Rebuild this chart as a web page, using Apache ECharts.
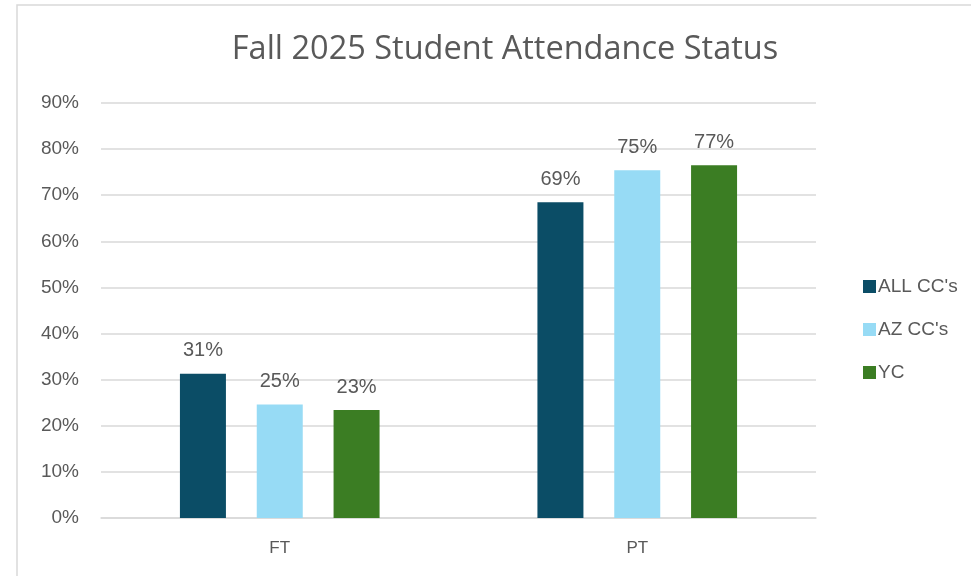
<!DOCTYPE html>
<html>
<head>
<meta charset="utf-8">
<script src="https://cdn.jsdelivr.net/npm/echarts@6/dist/echarts.min.js"></script>
<style>
  html, body { margin: 0; padding: 0; background: #fff; }
  #chart { width: 971px; height: 576px; }
</style>
</head>
<body>
<div id="chart"></div>
<script>
// categories and series (values as fractions)
var categories = ['FT', 'PT']
var seriesNames = ["ALL CC's", "AZ CC's", 'YC']
var allCC = [0.313, 0.685]
var azCC = [0.246, 0.754]
var yc = [0.234, 0.765]
var colors = ['#0b4d66', '#97dbf5', '#3b7d23']

var chart = echarts.init(document.getElementById('chart'))

function makeSeries(name, data, color) {
  return {
    name: name,
    type: 'bar',
    data: data,
    barWidth: 46,
    barGap: '67%',
    itemStyle: { color: color },
    label: {
      show: true,
      position: 'top',
      distance: 13,
      color: '#595959',
      fontSize: 20,
      fontFamily: 'Liberation Sans',
      formatter: function(p) {
        return Math.round(p.value * 100) + '%'
      }
    }
  }
}

var option = {
  animation: false,
  textStyle: { fontFamily: 'Liberation Sans' },
  title: {
    text: 'Fall 2025 Student Attendance Status',
    left: 500,
    textAlign: 'center',
    top: 28,
    textStyle: {
      color: '#595959',
      fontSize: 32.5,
      fontWeight: 'normal',
      fontFamily: 'Open Sans'
    }
  },
  legend: {
    orient: 'vertical',
    left: 858,
    top: 272,
    itemWidth: 13,
    itemHeight: 13,
    itemGap: 24,
    icon: 'rect',
    textStyle: { color: '#595959', fontSize: 19, padding: [0, 0, 0, -3] },
    data: seriesNames
  },
  grid: {
    left: 101,
    right: 155,
    top: 103,
    bottom: 58
  },
  xAxis: {
    type: 'category',
    data: categories,
    axisTick: { show: false },
    axisLine: { lineStyle: { color: '#d9d9d9', width: 1.5 } },
    axisLabel: { color: '#595959', fontSize: 17, margin: 22 }
  },
  yAxis: {
    type: 'value',
    min: 0,
    max: 0.9,
    interval: 0.1,
    axisLine: { show: false },
    axisTick: { show: false },
    splitLine: { lineStyle: { color: '#d9d9d9', width: 1.5 } },
    axisLabel: {
      color: '#595959',
      fontSize: 19,
      margin: 22,
      formatter: function(v) { return Math.round(v * 100) + '%' }
    }
  },
  graphic: [
    {
      type: 'rect',
      shape: { x: 17, y: 5, width: 1000, height: 700 },
      style: { fill: 'none', stroke: '#d9d9d9', lineWidth: 1.5 },
      silent: true
    }
  ],
  series: [
    makeSeries(seriesNames[0], allCC, colors[0]),
    makeSeries(seriesNames[1], azCC, colors[1]),
    makeSeries(seriesNames[2], yc, colors[2])
  ]
}

chart.setOption(option)
</script>
</body>
</html>
